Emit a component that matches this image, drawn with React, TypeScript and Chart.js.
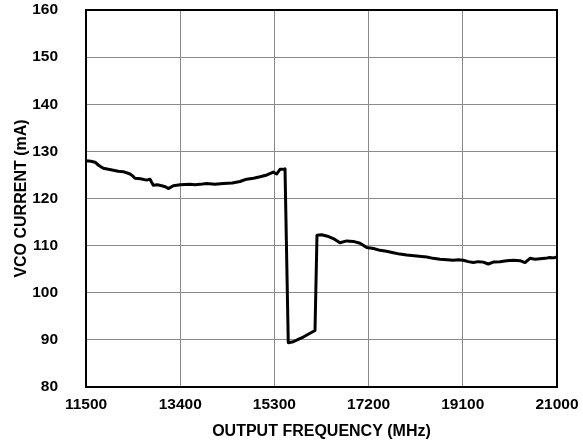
import React, { useEffect, useRef } from "react";
import { Chart, registerables } from "chart.js";

Chart.register(...registerables);

const frequencyMHz = [
  11500, 11600, 11682, 11760, 11849, 11950, 12051, 12150, 12252, 12387, 12440, 12488, 12600, 12724, 12791,
  12857, 12940, 13027, 13100, 13160, 13261, 13400, 13598, 13700, 13799, 13934, 14100, 14269, 14450, 14606,
  14741, 14880, 15010, 15150, 15278, 15346, 15413, 15494, 15514, 15580, 15681, 15780, 15883, 16000, 16119,
  16159, 16254, 16370, 16488, 16623, 16758, 16891, 17027, 17162, 17300, 17430, 17560, 17698, 17830, 17969,
  18170, 18372, 18500, 18640, 18780, 18909, 19010, 19110, 19210, 19312, 19413, 19513, 19614, 19715, 19850,
  19985, 20120, 20254, 20355, 20455, 20557, 20657, 20760, 20859, 20930, 21000,
];

const vcoCurrentMA = [
  128.0, 127.9, 127.7, 127.0, 126.4, 126.2, 126.0, 125.8, 125.7, 125.2, 124.8, 124.3, 124.2, 123.9, 124.1,
  122.8, 122.9, 122.7, 122.5, 122.1, 122.7, 122.9, 123.0, 122.9, 123.0, 123.2, 123.0, 123.2, 123.3, 123.6,
  124.1, 124.3, 124.6, 125.0, 125.6, 125.2, 126.2, 126.2, 126.3, 89.4, 89.6, 90.1, 90.6, 91.3, 92.0,
  112.2, 112.3, 112.0, 111.5, 110.6, 111.0, 110.9, 110.5, 109.6, 109.4, 109.0, 108.8, 108.5, 108.2, 108.0,
  107.8, 107.6, 107.3, 107.1, 107.0, 106.9, 107.0, 106.9, 106.6, 106.4, 106.6, 106.5, 106.1, 106.5, 106.6,
  106.8, 106.9, 106.8, 106.4, 107.3, 107.1, 107.2, 107.3, 107.5, 107.4, 107.6,
];

const xTickValues = [11500, 13400, 15300, 17200, 19100, 21000];
const yTickValues = [80, 90, 100, 110, 120, 130, 140, 150, 160];

const FONT = "'Liberation Sans', Arial, Helvetica, sans-serif";

const boxPlugin = {
  id: "plotBox",
  afterDraw(chart: any) {
    const { ctx, chartArea } = chart;
    ctx.save();
    ctx.strokeStyle = "#000";
    ctx.lineWidth = 2;
    ctx.strokeRect(chartArea.left, chartArea.top, chartArea.right - chartArea.left, chartArea.bottom - chartArea.top);
    ctx.restore();
  },
};

export default function App() {
  const canvasRef = useRef<HTMLCanvasElement | null>(null);

  useEffect(() => {
    document.body.style.margin = "0";
    const canvas = canvasRef.current;
    if (!canvas) return;
    const points = frequencyMHz.map((f, i) => ({ x: f, y: vcoCurrentMA[i] }));
    const chart = new Chart(canvas, {
      type: "line",
      data: {
        datasets: [
          {
            data: points,
            borderColor: "#000",
            borderWidth: 3,
            pointRadius: 0,
            tension: 0,
            fill: false,
            borderJoinStyle: "round",
            borderCapStyle: "round",
          },
        ],
      },
      options: {
        animation: false,
        responsive: false,
        maintainAspectRatio: false,
        layout: { padding: { left: 0, right: 26, top: 10, bottom: 0 } },
        plugins: {
          legend: { display: false },
          tooltip: { enabled: false },
        },
        scales: {
          x: {
            type: "linear",
            min: 11500,
            max: 21000,
            afterBuildTicks: (scale: any) => {
              scale.ticks = xTickValues.map((v) => ({ value: v }));
            },
            afterFit: (scale: any) => {
              scale.height = 59;
              scale.paddingLeft = 0;
              scale.paddingRight = 0;
            },
            grid: { color: "#8a8a8a", lineWidth: 1, drawTicks: false },
            border: { display: false },
            ticks: {
              color: "#000",
              font: { family: FONT, size: 15.5, weight: "bold" },
              padding: 8,
              maxRotation: 0,
              autoSkip: false,
              callback: (v: any) => String(v),
            },
            title: {
              display: true,
              text: "OUTPUT FREQUENCY (MHz)",
              color: "#000",
              font: { family: FONT, size: 16, weight: "bold" },
              padding: { top: 4, bottom: 5 },
            },
          },
          y: {
            type: "linear",
            min: 80,
            max: 160,
            afterBuildTicks: (scale: any) => {
              scale.ticks = yTickValues.map((v) => ({ value: v }));
            },
            afterFit: (scale: any) => {
              scale.width = 86;
              scale.paddingTop = 0;
              scale.paddingBottom = 0;
            },
            grid: { color: "#8a8a8a", lineWidth: 1, drawTicks: false },
            border: { display: false },
            ticks: {
              color: "#000",
              font: { family: FONT, size: 15.5, weight: "bold" },
              padding: 28,
              autoSkip: false,
              callback: (v: any) => String(v),
            },
            title: {
              display: true,
              text: "VCO CURRENT (mA)",
              color: "#000",
              font: { family: FONT, size: 16, weight: "bold" },
              padding: { top: 12, bottom: 0 },
            },
          },
        },
      },
      plugins: [boxPlugin],
    });
    return () => chart.destroy();
  }, []);

  return (
    <div style={{ width: 583, height: 446 }}>
      <canvas ref={canvasRef} width={583} height={446} style={{ width: 583, height: 446, display: "block" }} />
    </div>
  );
}
